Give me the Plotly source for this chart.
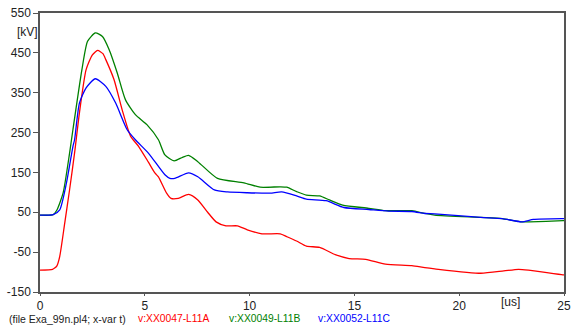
import plotly.graph_objects as go

# Phase A (red)
t_a = [0, 0.6, 0.7, 0.8, 0.94, 1.18, 1.41, 1.65, 1.88, 2.2, 2.5, 2.75, 3.0, 3.14, 3.53, 3.92, 4.32,
       4.71, 5.18, 5.49, 5.65, 6.04, 6.25, 6.6, 7.09, 7.53, 8.0, 8.4, 8.87, 9.42, 9.89, 10.59, 11.46,
       11.77, 12.24, 12.71, 13.34, 14.12, 14.75, 15.54, 16.48, 17.74, 18.36, 18.83, 21.03, 22.13,
       22.83, 23.3, 24.95, 25]
v_a = [-95, -93, -90, -85, -61, 23, 106, 199, 299, 408, 445, 456, 448, 433, 383, 307, 241,
       215, 175, 148, 139, 98, 85, 85, 95, 81, 50, 26, 16, 16, 6, -4, -4,
       -11, -22, -35, -38, -57, -66, -68, -80, -84, -89, -92, -103, -97,
       -93, -95, -107, -107]

# Phase B (green)
t_b = [0, 0.63, 0.8, 1.1, 1.41, 1.57, 2.0, 2.27, 2.64, 2.98, 3.3, 3.69, 4.08, 4.55, 5.1, 5.65,
       5.96, 6.4, 6.8, 7.09, 7.53, 8.47, 9.73, 10.5, 11.46, 11.77, 12.24, 12.71, 13.34, 13.81,
       14.44, 15.69, 16.48, 17.74, 18.36, 18.83, 21.03, 22.05, 22.99, 23.38, 24.95, 25]
v_b = [43, 44, 55, 98, 198, 257, 408, 479, 500, 491, 458, 399, 332, 295, 270, 232,
       194, 179, 188, 193, 177, 135, 124, 113, 114, 113, 102, 93, 91, 81,
       68, 60, 54, 54, 47, 43, 37, 34, 26, 26, 29, 29]

# Phase C (blue)
t_c = [0, 0.63, 0.94, 1.26, 1.57, 1.65, 1.88, 2.2, 2.64, 3.14, 3.61, 4.16, 4.55, 5.18, 5.96,
       6.2, 6.43, 7.09, 7.53, 8.32, 8.95, 9.89, 10.98, 11.53, 12.24, 12.71, 13.65, 14.5, 15.69,
       16.63, 17.74, 18.36, 18.83, 21.03, 22.05, 22.99, 23.54, 24.95, 25]
v_c = [43, 44, 56, 123, 215, 232, 324, 362, 385, 366, 324, 257, 232, 198, 144,
       135, 135, 149, 139, 106, 101, 99, 98, 101, 91, 83, 79, 62, 57,
       53, 52, 47, 46, 37, 34, 26, 32, 34, 34]

x_ticks = [0, 5, 10, 15, 20, 25]
y_ticks = [550, 450, 350, 250, 150, 50, -50, -150]
names = ["v:XX0047-L11A", "v:XX0049-L11B", "v:XX0052-L11C"]
colors = ["#ff0000", "#008000", "#0000ff"]

fig = go.Figure()
for t, v, n, c in zip([t_a, t_b, t_c], [v_a, v_b, v_c], names, colors):
    fig.add_trace(go.Scatter(x=t, y=v, mode="lines", name=n,
                             line=dict(color=c, width=1.3, shape="spline", smoothing=0.6)))

fig.update_layout(
    width=573, height=325,
    margin=dict(l=40, r=2, t=13, b=33),
    paper_bgcolor="white", plot_bgcolor="white",
    showlegend=False,
    font=dict(family="Liberation Sans, Arial, sans-serif", size=12, color="#222"),
)
fig.update_xaxes(range=[0, 25], tickvals=x_ticks, ticktext=[str(x) for x in x_ticks],
                 showgrid=False, zeroline=False, showline=True, mirror=True,
                 linecolor="#555", linewidth=1.5, ticks="outside", ticklen=2,
                 tickcolor="#555", tickfont=dict(size=12), ticklabeloverflow="allow")
fig.update_yaxes(range=[-150, 550], tickvals=y_ticks, ticktext=[str(y) for y in y_ticks],
                 showgrid=False, zeroline=False, showline=True, mirror=True,
                 linecolor="#555", linewidth=1.5, ticks="outside", ticklen=5,
                 tickcolor="#555", tickfont=dict(size=12))

ann = [
    dict(text="[kV]", x=-0.0245, y=0.932, xanchor="center", yanchor="middle", font=dict(size=12)),
    dict(text="[us]", x=0.898, y=-0.036, xanchor="center", yanchor="middle", font=dict(size=12)),
    dict(text="(file Exa_99n.pl4; x-var t)", x=(7 - 40) / 531, y=-0.095, xanchor="left",
         yanchor="middle", font=dict(size=10.5, color="#222")),
]
starts = [137, 230, 320]
for n, c, s in zip(names, colors, starts):
    ann.append(dict(text=n, x=(s - 40) / 531, y=-0.095, xanchor="left", yanchor="middle",
                    font=dict(size=10.3, color=c)))
for a in ann:
    a.update(xref="paper", yref="paper", showarrow=False)
fig.update_layout(annotations=ann)

fig.write_html("out.html")
